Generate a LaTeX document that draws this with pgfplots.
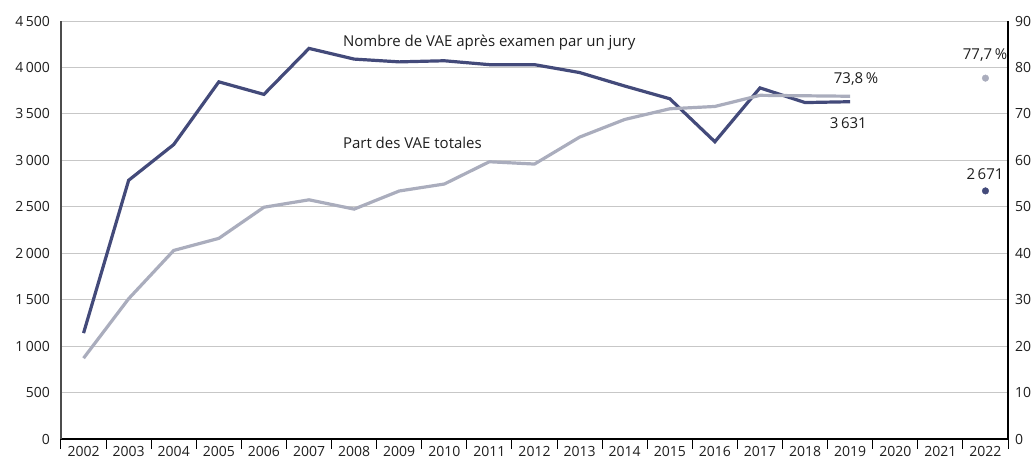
\documentclass[border=0pt]{standalone}
\usepackage{fontspec}
\setmainfont{Open Sans}
\usepackage{pgfplots}
\pgfplotsset{compat=1.18}
\definecolor{navyl}{RGB}{67,74,122}
\definecolor{greyl}{RGB}{170,173,189}
\definecolor{txt}{RGB}{30,30,30}
\begin{document}
\fontsize{15bp}{17bp}\selectfont
\begin{tikzpicture}
\useasboundingbox (-61bp,-22bp) rectangle (974bp,439bp);
\begin{axis}[
  scale only axis, width=947bp, height=418bp,
  at={(0,0)}, anchor=south west,
  xmin=-0.5, xmax=20.5, ymin=0, ymax=4500,
  axis y line*=left, axis x line*=bottom,
  y axis line style={draw=black!70, line width=1.2bp},
  x axis line style={draw=black, line width=1.2bp},
  xtick={0,...,20},
  xticklabels={2002,2003,2004,2005,2006,2007,2008,2009,2010,2011,2012,2013,2014,2015,2016,2017,2018,2019,2020,2021,2022},
  minor xtick={-0.5,0.5,...,20.5},
  major tick length=0pt, minor tick length=10bp, tick align=outside,
  minor tick style={black, line width=1bp},
  ytick={0,500,...,4500},
  yticklabels={0,500,1\,000,1\,500,2\,000,2\,500,3\,000,3\,500,4\,000,4\,500},
  ymajorgrids, grid style={draw=black!22, line width=0.9bp},
  ticklabel style={font=\fontsize{14bp}{16bp}\selectfont, text=txt},
  yticklabel style={xshift=-6bp},
  xticklabel style={yshift=-2bp},
  /pgf/number format/assume math mode=true,
  clip=false,
]
\addplot[navyl, line width=3.2bp] coordinates {
(0,1140) (1,2785) (2,3170) (3,3845) (4,3710) (5,4205) (6,4090) (7,4060) (8,4072) (9,4030) (10,4030) (11,3945) (12,3800) (13,3663) (14,3200) (15,3780) (16,3622) (17,3631)};
\addplot[navyl, only marks, mark=*, mark size=3.3bp, mark options={draw=navyl, fill=navyl}] coordinates {(20,2671)};
\node[anchor=west, inner sep=0pt, text=txt, font=\fontsize{15bp}{17bp}\selectfont] at (axis cs:5.75,4266) {Nombre de VAE après examen par un jury};
\node[anchor=west, inner sep=0pt, text=txt, font=\fontsize{15bp}{17bp}\selectfont] at (axis cs:5.75,3190) {Part des VAE totales};
\node[text=txt, font=\fontsize{15bp}{17bp}\selectfont] at (axis cs:17.13,3872) {73,8\,\%};
\node[text=txt, font=\fontsize{15bp}{17bp}\selectfont] at (axis cs:16.96,3405) {3\,631};
\node[text=txt, font=\fontsize{15bp}{17bp}\selectfont] at (axis cs:19.99,4133) {77,7\,\%};
\node[text=txt, font=\fontsize{15bp}{17bp}\selectfont] at (axis cs:19.99,2852) {2\,671};
\end{axis}
\begin{axis}[
  scale only axis, width=947bp, height=418bp,
  at={(0,0)}, anchor=south west,
  xmin=-0.5, xmax=20.5, ymin=0, ymax=90,
  axis y line*=right, axis x line=none,
  y axis line style={draw=black, line width=1.2bp},
  ytick={0,10,...,90},
  major tick length=0pt,
  ticklabel style={font=\fontsize{14bp}{16bp}\selectfont, text=txt},
  yticklabel style={xshift=2bp},
  /pgf/number format/assume math mode=true,
  clip=false,
]
\addplot[greyl, line width=3.2bp] coordinates {
(0,17.4) (1,30.2) (2,40.6) (3,43.2) (4,49.9) (5,51.5) (6,49.5) (7,53.4) (8,54.9) (9,59.7) (10,59.2) (11,65.0) (12,68.8) (13,71.1) (14,71.6) (15,74.0) (16,73.9) (17,73.8)};
\addplot[greyl, only marks, mark=*, mark size=3.3bp, mark options={draw=greyl, fill=greyl}] coordinates {(20,77.7)};
\end{axis}
\end{tikzpicture}
\end{document}
